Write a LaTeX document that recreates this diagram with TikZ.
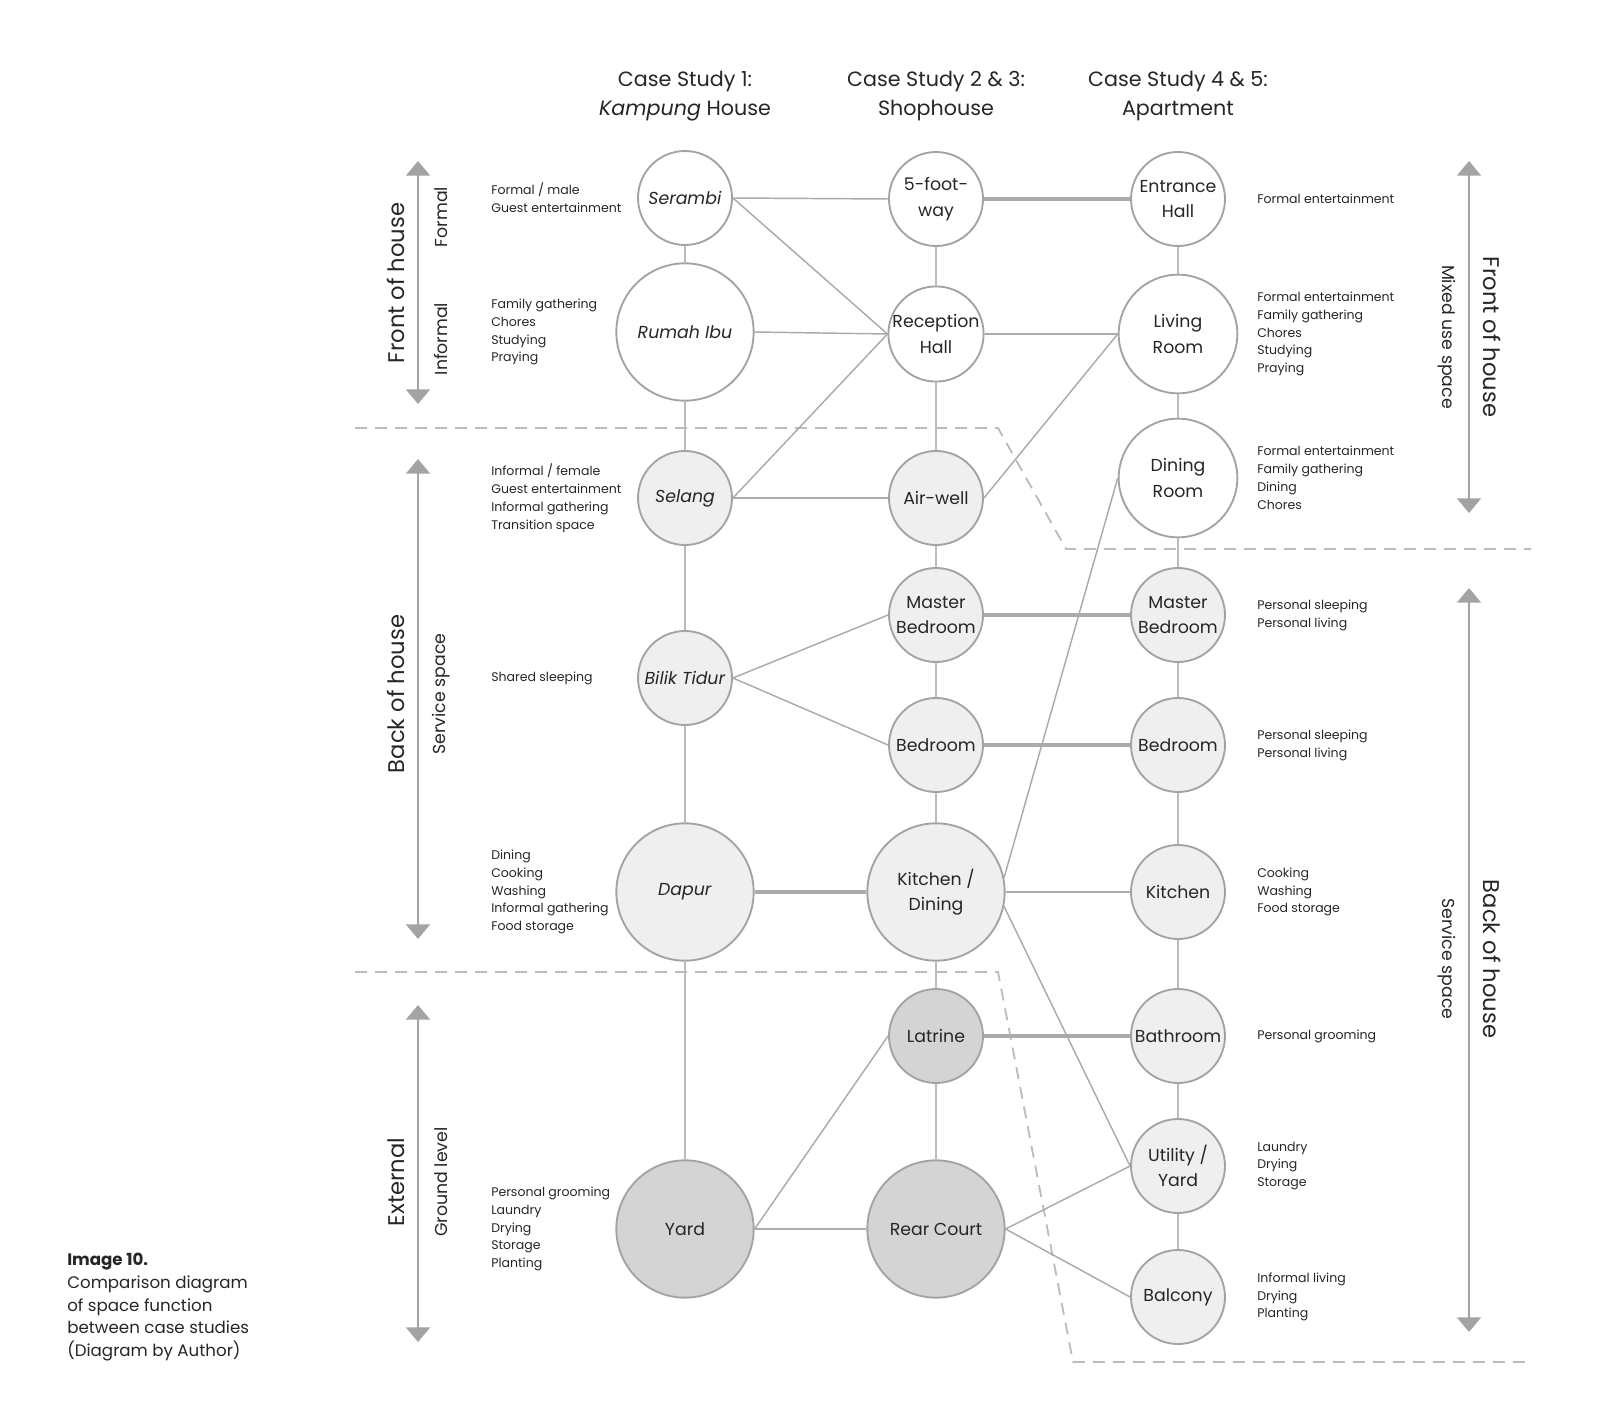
\documentclass[tikz,border=0pt]{standalone}
\usepackage{fontspec}
\setmainfont{Poppins}
\usetikzlibrary{arrows.meta, positioning, backgrounds, calc}

\definecolor{linegray}{HTML}{ABABAB}
\definecolor{ringgray}{HTML}{A3A3A3}
\definecolor{lightfill}{HTML}{EFEFEF}
\definecolor{darkfill}{HTML}{D4D4D4}
\definecolor{inkgray}{HTML}{262626}

\begin{document}
\begin{tikzpicture}[
    x=0.75pt, y=-0.75pt,
    font=\fontsize{13}{19}\selectfont, text=inkgray,
    room/.style={circle, draw=ringgray, line width=1.4pt, fill=white, minimum size=70.5pt, inner sep=0pt, align=center},
    bigroom/.style={room, minimum size=103pt},
    midroom/.style={room, minimum size=89pt},
    service/.style={fill=lightfill},
    outside/.style={fill=darkfill},
    desc/.style={anchor=west, align=left, inner sep=0pt, font=\fontsize{9.4}{13.4}\selectfont},
    title/.style={align=center, font=\fontsize{15.5}{22}\selectfont},
    sidebig/.style={font=\fontsize{17}{20}\selectfont},
    sidesmall/.style={font=\fontsize{13}{16}\selectfont},
    link/.style={draw=linegray, line width=1.1pt},
    vlink/.style={draw=linegray!80, line width=0.8pt},
    match/.style={draw=linegray, line width=3.6pt},
    zone/.style={draw=linegray!80, line width=1.4pt, dash pattern=on 9pt off 6pt},
    zonearrow/.style={draw=ringgray, line width=1.5pt, {Triangle[width=18pt,length=11pt]}-{Triangle[width=18pt,length=11pt]}}
]
\useasboundingbox (0,0) rectangle (1600,1423);

% Column headings
\node (title1) [title] at (685,96) {Case Study 1:\\\textit{Kampung} House};
\node (title2) [title] at (936,96) {Case Study 2 \& 3:\\Shophouse};
\node (title3) [title] at (1178,96) {Case Study 4 \& 5:\\Apartment};

% Kampung house
\node (serambi) [room] at (685,198) {\textit{Serambi}};
\node (rumahibu) [bigroom] at (685,332) {\textit{Rumah Ibu}};
\node (selang) [room, service] at (685,498) {\textit{Selang}};
\node (bilik) [room, service] at (685,678) {\textit{Bilik Tidur}};
\node (dapur) [bigroom, service] at (685,892) {\textit{Dapur}};
\node (yard) [bigroom, outside] at (685,1229) {Yard};

% Shophouse
\node (footway) [room] at (936,199) {5-foot-\\way};
\node (reception) [room] at (936,334) {Reception\\Hall};
\node (airwell) [room, service] at (936,498) {Air-well};
\node (mbedS) [room, service] at (936,615) {Master\\Bedroom};
\node (bedS) [room, service] at (936,745) {Bedroom};
\node (kitchenS) [bigroom, service] at (936,892) {Kitchen /\\Dining};
\node (latrine) [room, outside] at (936,1036) {Latrine};
\node (rearcourt) [bigroom, outside] at (936,1229) {Rear Court};

% Apartment
\node (entrance) [room] at (1178,199) {Entrance\\Hall};
\node (living) [midroom] at (1178,334) {Living\\Room};
\node (dining) [midroom] at (1178,478) {Dining\\Room};
\node (mbedA) [room, service] at (1178,615) {Master\\Bedroom};
\node (bedA) [room, service] at (1178,745) {Bedroom};
\node (kitchenA) [room, service] at (1178,892) {Kitchen};
\node (bathroom) [room, service] at (1178,1036) {Bathroom};
\node (utility) [room, service] at (1178,1166) {Utility /\\Yard};
\node (balcony) [room, service] at (1178,1297) {Balcony};

% Functions
\coordinate (descL) at (491,0);
\coordinate (descR) at (1257,0);
\node (dserambi) [desc] at (descL |- serambi) {Formal / male\\Guest entertainment};
\node (drumahibu) [desc] at (descL |- rumahibu) {Family gathering\\Chores\\Studying\\Praying};
\node (dselang) [desc] at (descL |- selang) {Informal / female\\Guest entertainment\\Informal gathering\\Transition space};
\node (dbilik) [desc] at (descL |- bilik) {Shared sleeping};
\node (ddapur) [desc] at (descL |- dapur) {Dining\\Cooking\\Washing\\Informal gathering\\Food storage};
\node (dyard) [desc] at (descL |- yard) {Personal grooming\\Laundry\\Drying\\Storage\\Planting};
\node (dentrance) [desc] at (descR |- entrance) {Formal entertainment};
\node (dliving) [desc] at (descR |- living) {Formal entertainment\\Family gathering\\Chores\\Studying\\Praying};
\node (ddining) [desc] at (descR |- dining) {Formal entertainment\\Family gathering\\Dining\\Chores};
\node (dmbedA) [desc] at (descR |- mbedA) {Personal sleeping\\Personal living};
\node (dbedA) [desc] at (descR |- bedA) {Personal sleeping\\Personal living};
\node (dkitchenA) [desc] at (descR |- kitchenA) {Cooking\\Washing\\Food storage};
\node (dbathroom) [desc] at (descR |- bathroom) {Personal grooming};
\node (dutility) [desc] at (descR |- utility) {Laundry\\Drying\\Storage};
\node (dbalcony) [desc] at (descR |- balcony) {Informal living\\Drying\\Planting};

% Zones, left side
\draw [zonearrow] (418,161) -- (418,404);
\node (fohL) [sidebig, rotate=90] at (396,283) {Front of house};
\node (formal) [sidesmall, rotate=90] at (441,217) {Formal};
\node (informal) [sidesmall, rotate=90] at (441,339) {Informal};
\draw [zonearrow] (418,459) -- (418,939);
\node (bohL) [sidebig, rotate=90] at (396,694) {Back of house};
\node (serviceL) [sidesmall, rotate=90] at (441,694) {Service space};
\draw [zonearrow] (418,1005) -- (418,1342);
\node (external) [sidebig, rotate=90] at (396,1182) {External};
\node (ground) [sidesmall, rotate=90] at (441,1182) {Ground level};

% Zones, right side
\draw [zonearrow] (1469,161) -- (1469,513);
\node (fohR) [sidebig, rotate=-90] at (1492,337) {Front of house};
\node (mixed) [sidesmall, rotate=-90] at (1447,337) {Mixed use space};
\draw [zonearrow] (1469,588) -- (1469,1332);
\node (bohR) [sidebig, rotate=-90] at (1492,959) {Back of house};
\node (serviceR) [sidesmall, rotate=-90] at (1447,959) {Service space};

% Caption
\node (caption) [anchor=north west, align=left, inner sep=0pt, font=\fontsize{12.5}{17}\selectfont] at (67,1253) {\textbf{Image 10.}\\Comparison diagram\\of space function\\between case studies\\(Diagram by Author)};

\begin{scope}[on background layer]
    % zone boundaries
    \draw [zone] (355,428) -- (998,428) -- (1066,549) -- (1531,549);
    \draw [zone] (355,972) -- (998,972) -- (1073,1362) -- (1531,1362);

    % spines
    \draw [vlink] (serambi) -- (rumahibu) -- (selang) -- (bilik) -- (dapur) -- (yard);
    \draw [vlink] (footway) -- (reception) -- (airwell) -- (mbedS) -- (bedS) -- (kitchenS) -- (latrine) -- (rearcourt);
    \draw [vlink] (entrance) -- (living) -- (dining) -- (mbedA) -- (bedA) -- (kitchenA) -- (bathroom) -- (utility) -- (balcony);

    % cross links
    \draw [link] (serambi.east) -- (footway.west);
    \draw [link] (serambi.east) -- (reception.west);
    \draw [link] (rumahibu.east) -- (reception.west);
    \draw [link] (selang.east) -- (reception.west);
    \draw [link] (selang.east) -- (airwell.west);
    \draw [link] (reception.east) -- (living.west);
    \draw [link] (airwell.east) -- (living.west);
    \draw [link] (bilik.east) -- (mbedS.west);
    \draw [link] (bilik.east) -- (bedS.west);
    \draw [link] (kitchenS.12) -- (dining.west);
    \draw [link] (kitchenS.east) -- (kitchenA.west);
    \draw [link] (kitchenS.-12) -- (utility.west);
    \draw [link] (yard.east) -- (latrine.west);
    \draw [link] (yard.east) -- (rearcourt.west);
    \draw [link] (rearcourt.east) -- (utility.west);
    \draw [link] (rearcourt.east) -- (balcony.west);

    % same use
    \draw [match] (footway.east) -- (entrance.west);
    \draw [match] (mbedS.east) -- (mbedA.west);
    \draw [match] (bedS.east) -- (bedA.west);
    \draw [match] (dapur.east) -- (kitchenS.west);
    \draw [match] (latrine.east) -- (bathroom.west);
\end{scope}

\end{tikzpicture}
\end{document}
